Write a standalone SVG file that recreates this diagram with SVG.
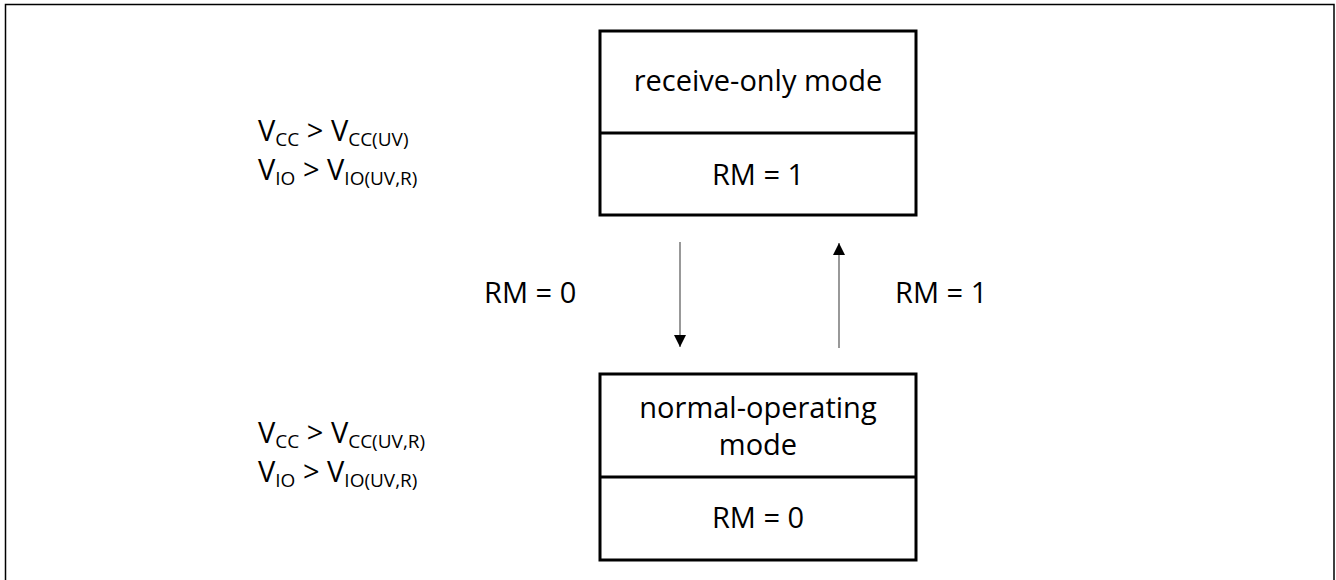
<svg xmlns="http://www.w3.org/2000/svg" width="1336" height="580" viewBox="0 0 1336 580">
<style>
text{font-family:"Open Sans","Liberation Sans",sans-serif;fill:#000}
.t{font-size:29px;text-anchor:middle}
.l{font-size:29px}
.s{font-size:19px}
.box{fill:#fff;stroke:#000;stroke-width:3}
.conn{stroke:#7f7f7f;stroke-width:1.6;fill:none}
</style>
<defs>
<marker id="ah" viewBox="0 0 12 12" refX="12" refY="6" markerWidth="12" markerHeight="12" markerUnits="userSpaceOnUse" orient="auto">
<path d="M0,0 L12,6 L0,12 Z" fill="#000"/>
</marker>
</defs>
<rect width="1336" height="580" fill="#fff"/>
<polyline points="5.5,580 5.5,4.5 1334,4.5 1334,580" fill="none" stroke="#000" stroke-width="1.5"/>
<g id="receive-only">
<rect class="box" x="600" y="31" width="316" height="184"/>
<line x1="600" y1="133" x2="916" y2="133" stroke="#000" stroke-width="3"/>
<text class="t" x="758" y="91">receive-only mode</text>
<text class="t" x="758" y="185">RM = 1</text>
</g>
<g id="normal-operating">
<rect class="box" x="600" y="374" width="316" height="186"/>
<line x1="600" y1="477" x2="916" y2="477" stroke="#000" stroke-width="3"/>
<text class="t" x="758" y="418">normal-operating</text>
<text class="t" x="758" y="455">mode</text>
<text class="t" x="758" y="528">RM = 0</text>
</g>
<g id="cond-top">
<text class="l" x="258" y="141">V<tspan class="s" dy="5">CC</tspan><tspan dy="-5"> &gt; V</tspan><tspan class="s" dy="5">CC(UV)</tspan></text>
<text class="l" x="258" y="180">V<tspan class="s" dy="5">IO</tspan><tspan dy="-5"> &gt; V</tspan><tspan class="s" dy="5">IO(UV,R)</tspan></text>
</g>
<g id="cond-bottom">
<text class="l" x="258" y="443">V<tspan class="s" dy="5">CC</tspan><tspan dy="-5"> &gt; V</tspan><tspan class="s" dy="5">CC(UV,R)</tspan></text>
<text class="l" x="258" y="482">V<tspan class="s" dy="5">IO</tspan><tspan dy="-5"> &gt; V</tspan><tspan class="s" dy="5">IO(UV,R)</tspan></text>
</g>
<g id="connectors">
<line class="conn" x1="680" y1="242" x2="680" y2="347" marker-end="url(#ah)"/>
<line class="conn" x1="839" y1="348" x2="839" y2="243" marker-end="url(#ah)"/>
<text class="l" x="484" y="303">RM = 0</text>
<text class="l" x="895" y="303">RM = 1</text>
</g>
</svg>
